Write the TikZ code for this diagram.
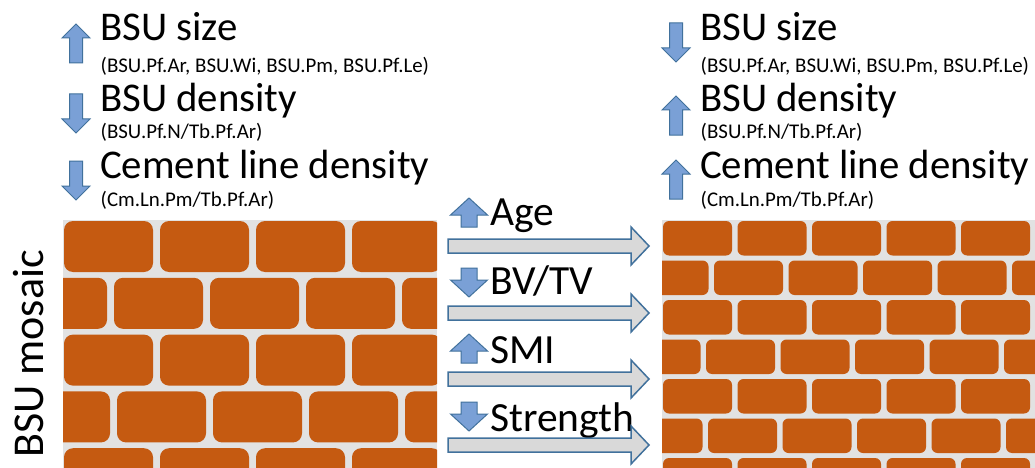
\documentclass[tikz,border=0pt]{standalone}
\usepackage{fontspec}
\setmainfont{Carlito}
\usetikzlibrary{positioning}

\definecolor{brick}{HTML}{C55A11}
\definecolor{mortar}{RGB}{226,226,226}
\definecolor{arrowblue}{RGB}{122,160,214}
\definecolor{edgeblue}{RGB}{65,113,156}
\definecolor{shaftgray}{RGB}{217,217,217}

\begin{document}
\begin{tikzpicture}[x=1pt, y=-1pt, line join=miter,
    head/.style = {anchor=base west, inner sep=0, font=\fontsize{40.8}{44}\selectfont},
    note/.style = {anchor=base west, inner sep=0, font=\fontsize{20.9}{24}\selectfont},
    change/.style = {anchor=base west, inner sep=0, font=\fontsize{41.5}{45}\selectfont},
    smallarrow/.style = {fill=arrowblue, draw=edgeblue, line width=1pt},
    bigarrow/.style = {fill=shaftgray, draw=edgeblue, line width=1.5pt},
    bsu/.style = {fill=brick, rounded corners=#1},
    pics/blk/.style args = {#1/#2/#3/#4}{code={
        \draw[smallarrow] (0,0) -- (#1/2,#4) -- (#3/2,#4) -- (#3/2,#2) -- (-#3/2,#2) -- (-#3/2,#4) -- (-#1/2,#4) -- cycle;}},
    pics/flow/.style = {code={
        \draw[bigarrow] (0,-7) -- (183,-7) -- (183,-19) -- (201,0) -- (183,19) -- (183,7) -- (0,7) -- cycle;}}
]
    \useasboundingbox (0,0) rectangle (1035,468);
    \fill[white] (0,0) rectangle (1035,468);

    % young mosaic
    \begin{scope}
        \clip (63,220) rectangle (437,468);
        \fill[mortar] (63,220) rectangle (437,468);
        \foreach \row/\start in {0/64, 1/18, 2/64, 3/21, 4/64}
            \foreach \k in {0,...,4}
                \fill[bsu=9] ({\start+96*\k}, {221+56.8*\row}) rectangle ++(89,51);
    \end{scope}

    % old mosaic
    \begin{scope}
        \clip (662,220) rectangle (1035,468);
        \fill[mortar] (662,220) rectangle (1035,468);
        \foreach \row/\start in {0/663, 1/639.5, 2/663, 3/631.5, 4/663, 5/633.5, 6/663}
            \foreach \k in {0,...,5}
                \fill[bsu=6] ({\start+74.5*\k}, {221+39.5*\row}) rectangle ++(69,34.5);
    \end{scope}

    \node[rotate=90, anchor=base west, inner sep=0, font=\fontsize{44}{47}\selectfont] (mosaic) at (43,458) {BSU mosaic};

    % left column
    \pic at (76,24) {blk=28/39/13/14};
    \pic at (76,133) {blk=28/-39/13/-14};
    \pic at (76,200) {blk=28/-39/13/-14};
    \node[head] (sizeL) at (100,41) {BSU size};
    \node[note] (sizeLn) at (100.5,73) {(BSU.Pf.Ar, BSU.Wi, BSU.Pm, BSU.Pf.Le)};
    \node[head] (densL) at (100,112) {BSU density};
    \node[note] (densLn) at (100.5,139) {(BSU.Pf.N/Tb.Pf.Ar)};
    \node[head] (cemL) at (100,178) {Cement line density};
    \node[note] (cemLn) at (100.5,206) {(Cm.Ln.Pm/Tb.Pf.Ar)};

    % right column
    \pic at (676,62) {blk=28/-39/13/-14};
    \pic at (676,96) {blk=28/39/13/14};
    \pic at (676,160) {blk=28/39/13/14};
    \node[head] (sizeR) at (700,41) {BSU size};
    \node[note] (sizeRn) at (700.5,73) {(BSU.Pf.Ar, BSU.Wi, BSU.Pm, BSU.Pf.Le)};
    \node[head] (densR) at (700,112) {BSU density};
    \node[note] (densRn) at (700.5,139) {(BSU.Pf.N/Tb.Pf.Ar)};
    \node[head] (cemR) at (700,178) {Cement line density};
    \node[note] (cemRn) at (700.5,206) {(Cm.Ln.Pm/Tb.Pf.Ar)};

    % changes in between
    \pic at (469,198) {blk=37/29/16/17};
    \pic at (469,297) {blk=37/-29/16/-17};
    \pic at (469,334) {blk=37/29/16/17};
    \pic at (469,431) {blk=37/-29/16/-17};
    \node[change] (age) at (490,225) {Age};
    \node[change] (bvtv) at (490,294) {BV/TV};
    \node[change] (smi) at (490,363) {SMI};
    \node[change] (strength) at (490,431) {Strength};

    \foreach \c in {246,313,379,445}
        \pic at (448,\c) {flow};

\end{tikzpicture}
\end{document}
